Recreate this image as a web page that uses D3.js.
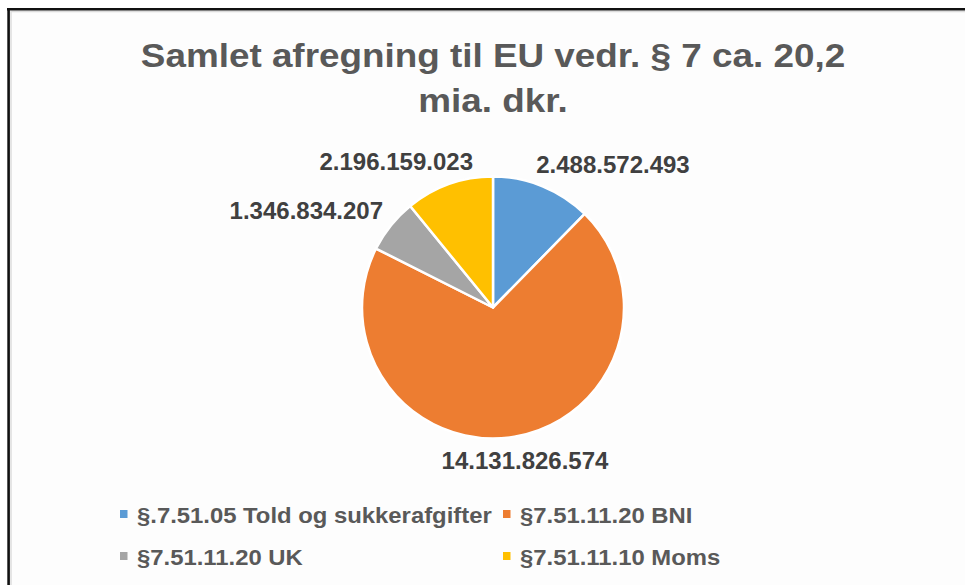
<!DOCTYPE html>
<html>
<head>
<meta charset="utf-8">
<script src="https://cdn.jsdelivr.net/npm/d3@7"></script>
<style>
  html, body { margin: 0; padding: 0; background: #ffffff; }
  svg { display: block; }
  text { font-family: "Liberation Sans", Arial, sans-serif; font-weight: bold; }
</style>
</head>
<body>
<svg id="chart" width="965" height="585"></svg>
<script>
// ---- data ----
const titleLines = ["Samlet afregning til EU vedr. § 7 ca. 20,2", "mia. dkr."];
const categories = ["§.7.51.05 Told og sukkerafgifter", "§7.51.11.20 BNI", "§7.51.11.20 UK", "§7.51.11.10 Moms"];
const values = [2488572493, 14131826574, 1346834207, 2196159023];
const colors = ["#5B9BD5", "#ED7D31", "#A5A5A5", "#FFC000"];

// ---- layout ----
const W = 965, H = 585;
const cx = 493, cy = 307.5, R = 131;

const svg = d3.select("#chart");

// frame
svg.append("rect").attr("x", 0).attr("y", 0).attr("width", W).attr("height", H).attr("fill", "#ffffff");
svg.append("rect").attr("x", 10).attr("y", 10.5).attr("width", W).attr("height", H).attr("fill", "#fdfdfd");
svg.append("line").attr("x1", 11).attr("x2", W).attr("y1", 11.5).attr("y2", 11.5).attr("stroke", "#dcdcdc").attr("stroke-width", 1.5);
svg.append("line").attr("x1", 11).attr("x2", 11).attr("y1", 11).attr("y2", H).attr("stroke", "#dcdcdc").attr("stroke-width", 1.5);
svg.append("line").attr("x1", 7).attr("x2", W).attr("y1", 9.3).attr("y2", 9.3).attr("stroke", "#111").attr("stroke-width", 2.6);
svg.append("line").attr("x1", 8.6).attr("x2", 8.6).attr("y1", 8).attr("y2", H).attr("stroke", "#111").attr("stroke-width", 2.6);

// title (glyphs slightly wide, as in the reference)
const title = svg.append("g").attr("transform", `translate(${cx},0) scale(1.1,1)`)
  .append("text")
  .attr("text-anchor", "middle")
  .attr("fill", "#595959")
  .style("font-size", "33.5px");
title.selectAll("tspan").data(titleLines).join("tspan")
  .attr("x", 0).attr("y", (d, i) => 67 + i * 45)
  .text(d => d);

// pie
const pie = d3.pie().sort(null).value(d => d);
const arcs = pie(values);
const arc = d3.arc().innerRadius(0).outerRadius(R);

const g = svg.append("g").attr("transform", `translate(${cx},${cy})`);
g.selectAll("path").data(arcs).join("path")
  .attr("d", arc)
  .attr("fill", (d, i) => colors[i])
  .attr("stroke", "#ffffff")
  .attr("stroke-width", 2.5)
  .attr("stroke-linejoin", "round");

// data labels (outside, best-fit style)
const fmt = d3.formatLocale({ decimal: ",", thousands: ".", grouping: [3], currency: ["", ""] }).format(",d");
const pad = 10;
const labels = g.selectAll("text.lbl").data(arcs).join("text")
  .attr("class", "lbl")
  .attr("fill", "#404040")
  .style("font-size", "24px")
  .attr("text-anchor", "middle")
  .text(d => fmt(d.data));

labels.each(function(d) {
  const a = (d.startAngle + d.endAngle) / 2;
  const s = Math.sin(a), c = Math.cos(a);
  const w = this.getComputedTextLength();
  const h = 28;
  const px = (R + pad) * s, py = -(R + pad) * c;
  const f = Math.sign(s) * Math.min(1, Math.pow(Math.abs(s) / 0.4, 2.5));
  const x = px + f * w / 2;
  const y = py - c * h / 2;
  d3.select(this).attr("x", x).attr("y", y + 8.5);
});

// legend
const legX = [120, 503], legY = [523, 565];
const leg = svg.append("g").selectAll("g").data(categories).join("g")
  .attr("transform", (d, i) => `translate(${legX[i % 2]},${legY[Math.floor(i / 2)]})`);
leg.append("rect").attr("x", 0).attr("y", -13).attr("width", 7.5).attr("height", 8)
  .attr("fill", (d, i) => colors[i]);
leg.append("text")
  .attr("transform", "translate(17,0) scale(1.07,1)")
  .attr("x", 0).attr("y", 0)
  .attr("fill", "#595959")
  .style("font-size", "22.3px")
  .text(d => d);
</script>
</body>
</html>
